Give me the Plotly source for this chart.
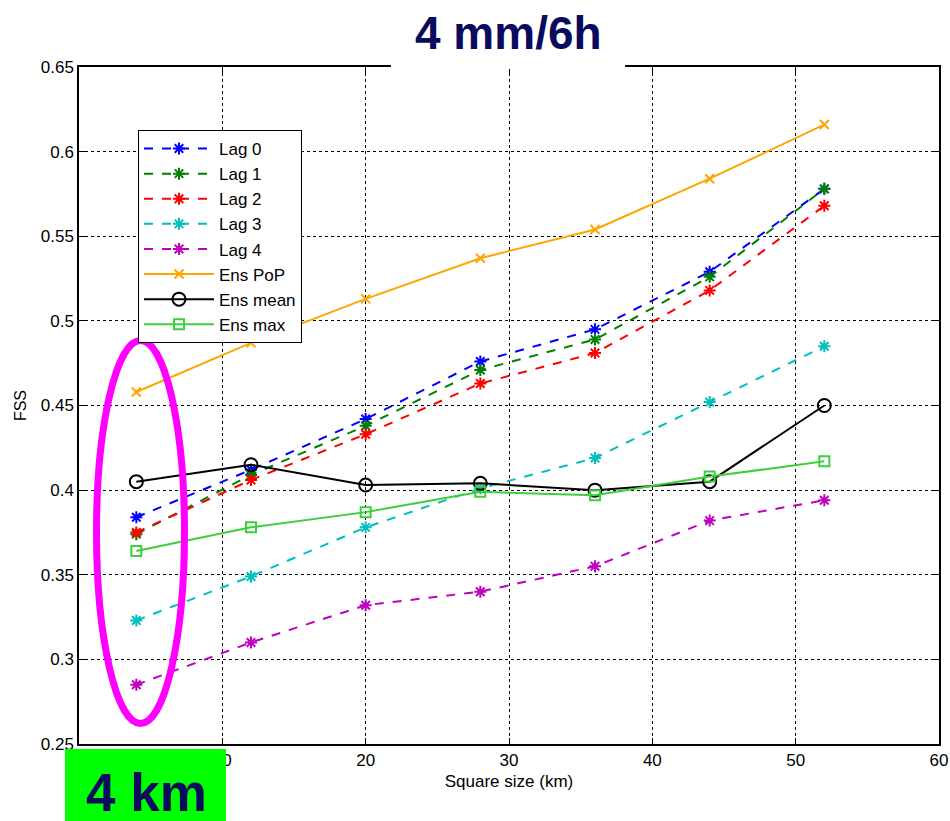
import plotly.graph_objects as go

# ---- data ----
square_size = [4, 12, 20, 28, 36, 44, 52]
lag0 = [0.384, 0.412, 0.442, 0.476, 0.495, 0.529, 0.578]
lag1 = [0.374, 0.409, 0.438, 0.471, 0.489, 0.526, 0.578]
lag2 = [0.375, 0.406, 0.433, 0.463, 0.481, 0.518, 0.568]
lag3 = [0.323, 0.349, 0.378, 0.401, 0.419, 0.452, 0.485]
lag4 = [0.285, 0.310, 0.332, 0.340, 0.355, 0.382, 0.394]
ens_pop = [0.458, 0.487, 0.513, 0.537, 0.554, 0.584, 0.616]
ens_mean = [0.405, 0.415, 0.403, 0.404, 0.400, 0.405, 0.450]
ens_max = [0.364, 0.378, 0.387, 0.399, 0.397, 0.408, 0.417]

x_ticks = [0, 10, 20, 30, 40, 50, 60]
x_ticktext = ["0", "10", "20", "30", "40", "50", "60"]
y_ticks = [0.25, 0.3, 0.35, 0.4, 0.45, 0.5, 0.55, 0.6, 0.65]
y_ticktext = ["0.25", "0.3", "0.35", "0.4", "0.45", "0.5", "0.55", "0.6", "0.65"]

title_text = "4 mm/6h"
badge_text = "4 km"

# ---- layout geometry (pixels) ----
W, H = 950, 821
L, R, T, B = 79, 11, 67, 77
PW, PH = W - L - R, H - T - B


def px(xp):
    return (xp - L) / PW


def py(yp):
    return (H - B - yp) / PH


FONT = "Liberation Sans, Arial, sans-serif"
NAVY = "#0a0a5e"

series = [
    ("Lag 0", lag0, "#0000ff", "dash", "asterisk-open", 10),
    ("Lag 1", lag1, "#008000", "dash", "asterisk-open", 10),
    ("Lag 2", lag2, "#ff0000", "dash", "asterisk-open", 10),
    ("Lag 3", lag3, "#00bfbf", "dash", "asterisk-open", 10),
    ("Lag 4", lag4, "#bf00bf", "dash", "asterisk-open", 10),
    ("Ens PoP", ens_pop, "#ffa500", "solid", "x-thin-open", 9),
    ("Ens mean", ens_mean, "#000000", "solid", "circle-open", 13),
    ("Ens max", ens_max, "#3ccf3c", "solid", "square-open", 10),
]

fig = go.Figure()
for name, vals, col, dash, sym, size in series:
    fig.add_trace(go.Scatter(
        x=square_size, y=vals, name=name, mode="lines+markers",
        legendgroup=name,
        line=dict(color=col, dash=dash, width=2),
        marker=dict(symbol=sym, size=size, color=col,
                    line=dict(color=col, width=2)),
    ))

axis_common = dict(
    showline=True, linecolor="black", linewidth=1.5, mirror="ticks",
    ticks="inside", ticklen=6, tickcolor="black", tickwidth=1,
    showgrid=True, gridcolor="black", gridwidth=1, griddash="dot",
    zeroline=False, tickfont=dict(family=FONT, size=17, color="black"),
    automargin=False,
)

fig.update_layout(
    width=W, height=H,
    margin=dict(l=L, r=R, t=T, b=B),
    paper_bgcolor="white", plot_bgcolor="white",
    font=dict(family=FONT, color="black"),
    xaxis=dict(range=[0, 60], tickvals=x_ticks, ticktext=x_ticktext,
               title=dict(text="Square size (km)", font=dict(size=17), standoff=6),
               **axis_common),
    yaxis=dict(range=[0.25, 0.65], tickvals=y_ticks, ticktext=y_ticktext,
               title=dict(text="FSS", font=dict(size=16), standoff=10),
               **axis_common),
    legend=dict(
        x=px(138), y=py(130), xanchor="left", yanchor="top",
        bgcolor="white", bordercolor="black", borderwidth=1,
        font=dict(family=FONT, size=17, color="black"),
        traceorder="grouped", tracegroupgap=0, itemwidth=70,
    ),
    showlegend=True,
)

shapes = [
    # white patch behind the title
    dict(type="rect", xref="paper", yref="paper",
         x0=px(391), x1=px(625), y0=py(69), y1=py(-5),
         fillcolor="white", line=dict(width=0), layer="above"),
    # magenta ellipse highlight
    dict(type="circle", xref="paper", yref="paper",
         x0=px(96.5), x1=px(184.5), y0=py(723.5), y1=py(340.5),
         line=dict(color="#ff00ff", width=7), layer="above"),
    # green badge
    dict(type="rect", xref="paper", yref="paper",
         x0=px(65), x1=px(226), y0=py(825), y1=py(749),
         fillcolor="#00ff00", line=dict(width=0), layer="above"),
]
fig.update_layout(shapes=shapes)

fig.add_annotation(x=px(508), y=py(33), xref="paper", yref="paper",
                   text=f"<b>{title_text}</b>", showarrow=False,
                   xanchor="center", yanchor="middle",
                   font=dict(family=FONT, size=46, color=NAVY))
fig.add_annotation(x=px(146), y=py(792), xref="paper", yref="paper",
                   text=f"<b>{badge_text}</b>", showarrow=False,
                   xanchor="center", yanchor="middle",
                   font=dict(family=FONT, size=53, color=NAVY))

fig.write_html(
    "out.html",
    config={"displayModeBar": False},
    post_script="document.body.style.margin='0';document.body.style.overflow='hidden';",
)
